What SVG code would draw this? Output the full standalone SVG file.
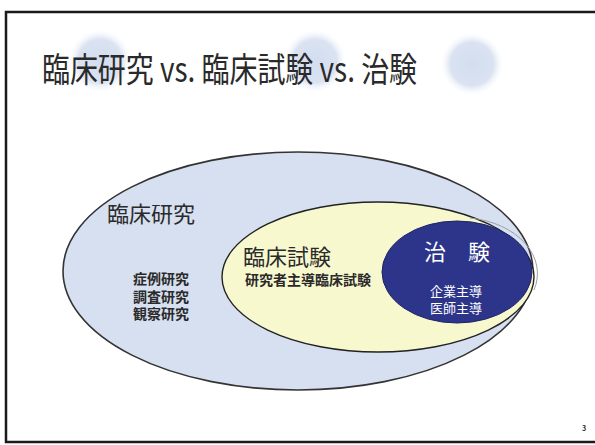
<svg xmlns="http://www.w3.org/2000/svg" width="595" height="445" viewBox="0 0 595 445">
  <defs>
    <radialGradient id="dot" cx="50%" cy="50%" r="50%">
      <stop offset="0" stop-color="#d2ddef"/>
      <stop offset="0.7" stop-color="#dbe3f2"/>
      <stop offset="1" stop-color="#f2f5fb" stop-opacity="0"/>
    </radialGradient>
    <style>
      .t { font-family: "Noto Sans CJK JP", "Noto Sans", sans-serif; fill: #2a2a2a; }
      .w { font-family: "Noto Sans CJK JP", "Noto Sans", sans-serif; fill: #ffffff; }
    </style>
  </defs>
  <rect width="595" height="445" fill="#ffffff"/>
  <path d="M595 12 H6 V442 H595" fill="none" stroke="#1a1a1a" stroke-width="2.5"/>

  <g id="title-decor">
    <circle cx="100" cy="61" r="31" fill="url(#dot)"/>
    <circle cx="315" cy="61" r="31" fill="url(#dot)"/>
    <circle cx="472" cy="64" r="31" fill="url(#dot)"/>
  </g>
  <text class="t" x="42" y="82" font-size="34" textLength="375" lengthAdjust="spacingAndGlyphs">臨床研究 vs. 臨床試験 vs. 治験</text>

  <g id="clinical-research">
    <ellipse cx="298" cy="271" rx="235" ry="119" fill="#d7e0f0" stroke="#333333" stroke-width="1.6"/>
    <text class="t" x="107" y="222" font-size="22">臨床研究</text>
    <text class="t" x="161" y="284" font-size="14" font-weight="bold" text-anchor="middle">症例研究</text>
    <text class="t" x="161" y="301.5" font-size="14" font-weight="bold" text-anchor="middle">調査研究</text>
    <text class="t" x="161" y="319" font-size="14" font-weight="bold" text-anchor="middle">観察研究</text>
  </g>

  <g id="clinical-trial">
    <ellipse cx="378" cy="277" rx="156" ry="75" fill="#f8f8cf" stroke="#222222" stroke-width="1.4"/>
    <text class="t" x="243" y="265" font-size="22">臨床試験</text>
    <text class="t" x="245" y="285" font-size="14" font-weight="bold">研究者主導臨床試験</text>
  </g>

  <g id="chiken">
    <path d="M470 218 A78 56 0 0 1 534 290" fill="none" stroke="#9aa0a8" stroke-width="1"/>
    <ellipse cx="457" cy="272" rx="75" ry="51" fill="#2c358a" stroke="#1e2466" stroke-width="1"/>
    <text class="w" x="457" y="260" font-size="22" text-anchor="middle">治　験</text>
    <text class="w" x="456" y="296" font-size="13" text-anchor="middle">企業主導</text>
    <text class="w" x="456" y="313" font-size="13" text-anchor="middle">医師主導</text>
  </g>

  <text class="t" x="582" y="431" font-size="7" font-weight="bold">3</text>
</svg>
